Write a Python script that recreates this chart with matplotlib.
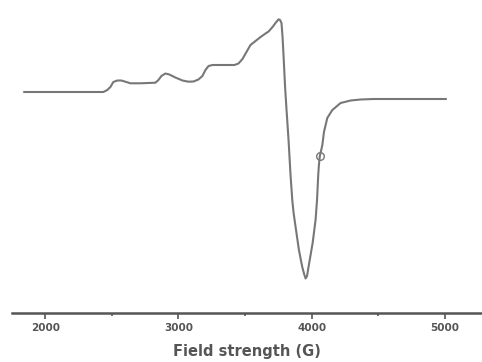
import numpy as np
import matplotlib.pyplot as plt

# EPR spectrum (field in G, signal in arbitrary units)
field = [1842, 2436, 2466, 2489, 2511, 2541, 2571, 2609, 2639, 2714, 2827,
         2850, 2872, 2902, 2932, 2977, 3030, 3075, 3113, 3150, 3180, 3203,
         3226, 3256, 3353, 3421, 3451, 3481, 3511, 3541, 3579, 3617, 3654,
         3677, 3707, 3729, 3752, 3763, 3774, 3782, 3790, 3801, 3812, 3827,
         3842, 3855, 3865, 3880, 3905, 3930, 3944, 3955, 3966, 3977, 4008,
         4030, 4041, 4050, 4055, 4062, 4081, 4093, 4118, 4156, 4218, 4293,
         4368, 4466, 5008]
signal = [0, 0, 2, 5, 10, 11.5, 11.5, 10, 8.7, 8.7, 9.3,
          12, 16, 18.5, 17.5, 14.5, 11.5, 10.3, 10.5, 12.5, 16, 22,
          26, 27, 27, 27, 28.5, 33, 40, 47, 51, 55, 58.5,
          60.5, 65, 69, 72.7, 72, 69, 55, 35, 5, -18, -48,
          -83, -108, -121, -135, -158, -175, -182, -186.5, -184, -175, -151,
          -128, -108, -83, -73, -64, -53, -40, -26, -18, -11, -8.5,
          -7.5, -7, -7]
marker_field = [4062]
marker_signal = [-64]

xticks = [2000, 3000, 4000, 5000]

fig = plt.figure(figsize=(4.82, 3.62), dpi=100)
ax = fig.add_axes([12 / 482, 1 - 313 / 362, 470 / 482, 313 / 362])

ax.plot(field, signal, color='#777777', lw=1.5)
ax.plot(marker_field, marker_signal, 'o', mfc='none', mec='#777777', ms=5.5, mew=1)

ax.set_xlim(1750, 5280)
ax.set_ylim(-221, 92)

for side in ['top', 'left', 'right']:
    ax.spines[side].set_visible(False)
ax.spines['bottom'].set_color('#555555')
ax.spines['bottom'].set_linewidth(1.8)
ax.set_yticks([])

ax.set_xticks(xticks)
ax.set_xticks([2500, 3500, 4500], minor=True)
ax.tick_params(axis='x', which='major', length=4, width=1.2, color='#555555',
               labelsize=7.5, labelcolor='#555555', pad=3)
ax.tick_params(axis='x', which='minor', length=2, width=1.2, color='#555555')
for lbl in ax.get_xticklabels():
    lbl.set_fontweight('bold')

ax.set_xlabel('Field strength (G)', fontsize=10.5, fontweight='bold',
              color='#555555', labelpad=8)

fig.savefig('out.png', dpi=100)
